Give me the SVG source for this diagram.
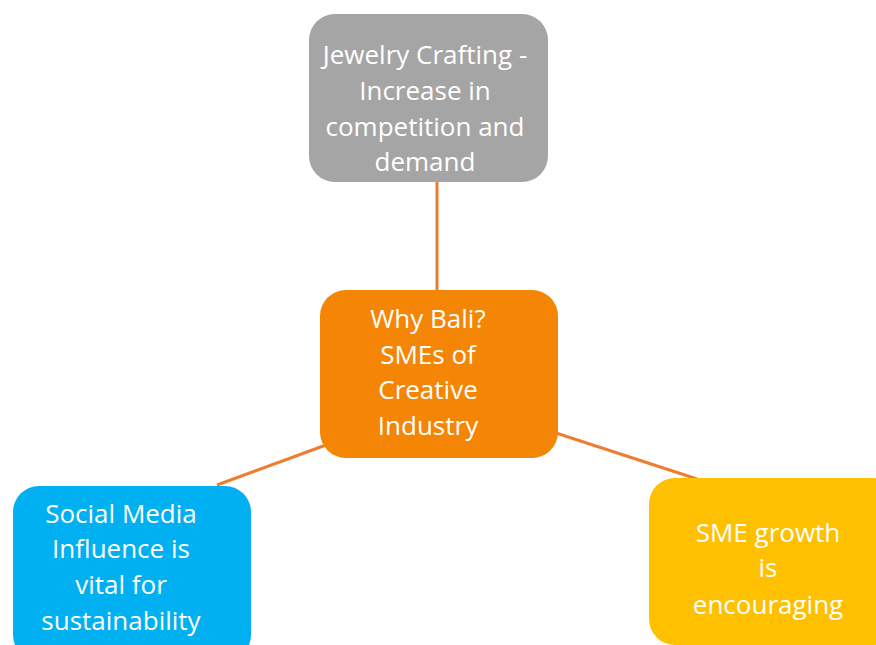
<svg xmlns="http://www.w3.org/2000/svg" width="876" height="645" viewBox="0 0 876 645">
<style>
.conn{stroke:#ED7D31;stroke-width:3;fill:none}
.lbl{font-family:"Open Sans","Liberation Sans",sans-serif;font-size:26px;fill:#FFFFFF;text-anchor:middle}
</style>
<rect width="876" height="645" fill="#FFFFFF"/>
<g id="connectors">
<line class="conn" x1="437" y1="182" x2="437" y2="290"/>
<line class="conn" x1="326" y1="445" x2="217" y2="485"/>
<line class="conn" x1="556" y1="433" x2="697" y2="479"/>
</g>
<g id="jewelry">
<rect x="309" y="14" width="239" height="168" rx="26" fill="#A5A5A5"/>
<text class="lbl" x="425" y="64">Jewelry Crafting -</text>
<text class="lbl" x="425" y="100">Increase in</text>
<text class="lbl" x="425" y="136">competition and</text>
<text class="lbl" x="425" y="171">demand</text>
</g>
<g id="center">
<rect x="320" y="290" width="238" height="168" rx="26" fill="#F58505"/>
<text class="lbl" x="428" y="328">Why Bali?</text>
<text class="lbl" x="428" y="364">SMEs of</text>
<text class="lbl" x="428" y="399">Creative</text>
<text class="lbl" x="428" y="435">Industry</text>
</g>
<g id="social">
<rect x="13" y="486" width="238" height="175" rx="26" fill="#00B0F0"/>
<text class="lbl" x="121" y="523">Social Media</text>
<text class="lbl" x="121" y="558">Influence is</text>
<text class="lbl" x="121" y="594">vital for</text>
<text class="lbl" x="121" y="630">sustainability</text>
</g>
<g id="sme">
<rect x="649" y="478" width="250" height="167" rx="26" fill="#FFC000"/>
<text class="lbl" x="768" y="542">SME growth</text>
<text class="lbl" x="768" y="577">is</text>
<text class="lbl" x="768" y="614">encouraging</text>
</g>
</svg>
